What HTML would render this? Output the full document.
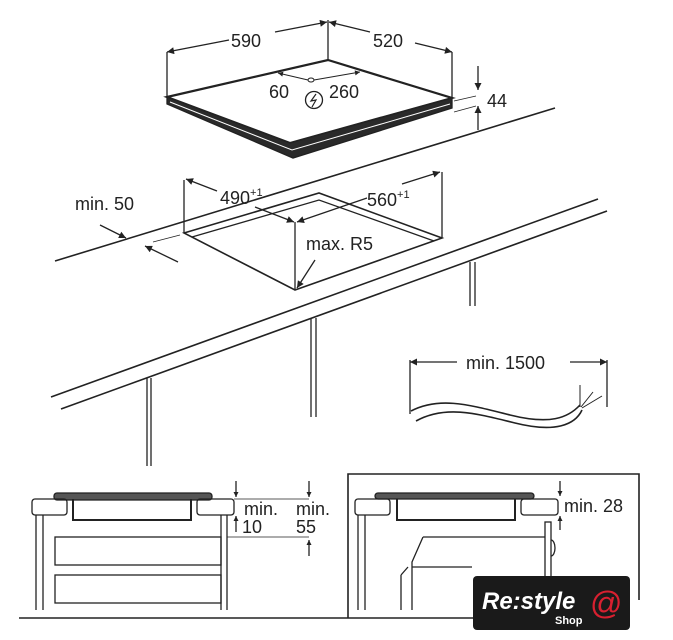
<!DOCTYPE html>
<html><head><meta charset="utf-8"><style>
html,body{margin:0;padding:0;background:#fff;}
svg{display:block;font-family:"Liberation Sans",Arial,sans-serif;}
</style></head><body>
<svg width="673" height="640" viewBox="0 0 673 640" xmlns="http://www.w3.org/2000/svg">
<defs>
<marker id="a" viewBox="0 0 10 10" refX="10" refY="5" markerWidth="9" markerHeight="7" orient="auto-start-reverse" markerUnits="userSpaceOnUse"><path d="M0,0 L10,5 L0,10 z" fill="#222"/></marker>
<marker id="s" viewBox="0 0 10 10" refX="10" refY="5" markerWidth="6" markerHeight="5" orient="auto-start-reverse" markerUnits="userSpaceOnUse"><path d="M0,0 L10,5 L0,10 z" fill="#222"/></marker>
</defs>
<g stroke="#222" fill="none" stroke-width="1.3">
<!-- HOB -->
<path d="M167,97 L328,60 L452,98 L290,143 Z" fill="#fff" stroke-width="2.2"/>
<path d="M167,97 L167,104 L293,158 L452,108 L452,98 L290,143 Z" fill="#2a2a2a"/>
<path d="M170,102 L292,150 L450,104" stroke="#fff" stroke-width="1"/>
<line x1="167" y1="52" x2="167" y2="97"/>
<line x1="452" y1="52" x2="452" y2="98"/>
<line x1="328" y1="20" x2="328" y2="60"/>
<line x1="167" y1="52" x2="229" y2="40" marker-start="url(#a)"/>
<line x1="275" y1="32" x2="327" y2="22" marker-end="url(#a)"/>
<line x1="329" y1="22" x2="370" y2="32" marker-start="url(#a)"/>
<line x1="415" y1="43" x2="452" y2="52" marker-end="url(#a)"/>
<line x1="278" y1="73" x2="308" y2="80" marker-start="url(#s)" stroke-width="1"/>
<line x1="314" y1="80" x2="360" y2="72" marker-end="url(#s)" stroke-width="1"/>
<ellipse cx="311" cy="80" rx="3" ry="2" stroke-width="1"/>
<circle cx="314" cy="100" r="8.5" stroke-width="1.3"/>
<path d="M316,94 L311,101 L316,100 L312,107" stroke-width="1.2"/>
<!-- 44 -->
<line x1="478" y1="66" x2="478" y2="90" marker-end="url(#a)"/>
<line x1="478" y1="130" x2="478" y2="106" marker-end="url(#a)"/>
<line x1="454" y1="101" x2="476" y2="96" stroke-width="0.8"/>
<line x1="454" y1="112" x2="476" y2="106" stroke-width="0.8"/>
<!-- COUNTER -->
<line x1="55" y1="261" x2="555" y2="108" stroke-width="1.6"/>
<line x1="51" y1="397" x2="598" y2="199" stroke-width="1.6"/>
<line x1="61" y1="409" x2="607" y2="211" stroke-width="1.6"/>
<!-- cutout -->
<path d="M184,233 L319,193 L442,238 L295,290 Z" stroke-width="1.6"/>
<path d="M192,237 L319,200 L434,241" stroke-width="1.3"/>
<line x1="184" y1="180" x2="184" y2="233"/>
<line x1="442" y1="172" x2="442" y2="238"/>
<line x1="295" y1="222" x2="295" y2="290"/>
<line x1="186" y1="179" x2="217" y2="191" marker-start="url(#a)"/>
<line x1="255" y1="207" x2="294" y2="222" marker-end="url(#a)"/>
<line x1="367" y1="198" x2="297" y2="222" marker-end="url(#a)"/>
<line x1="402" y1="184" x2="440" y2="172" marker-end="url(#a)"/>
<line x1="100" y1="225" x2="126" y2="238" marker-end="url(#a)"/>
<line x1="178" y1="262" x2="145" y2="246" marker-end="url(#a)"/>
<line x1="153" y1="242" x2="180" y2="235" stroke-width="0.8"/>
<line x1="315" y1="260" x2="297" y2="288" marker-end="url(#a)"/>
<!-- legs -->
<line x1="470" y1="262" x2="470" y2="306"/><line x1="475" y1="262" x2="475" y2="306"/>
<line x1="311" y1="318" x2="311" y2="417"/><line x1="316" y1="318" x2="316" y2="417"/>
<line x1="147" y1="378" x2="147" y2="466"/><line x1="151" y1="378" x2="151" y2="466"/>
<!-- cable -->
<line x1="410" y1="360" x2="410" y2="414"/>
<line x1="607" y1="360" x2="607" y2="407"/>
<line x1="410" y1="362" x2="457" y2="362" marker-start="url(#a)"/>
<line x1="570" y1="362" x2="607" y2="362" marker-end="url(#a)"/>
<path d="M411,411 C440,396 470,405 510,415 C550,425 568,418 580,405" stroke-width="1.6"/>
<path d="M416,421 C445,405 475,413 515,423 C555,433 575,425 582,410" stroke-width="1.6"/>
<path d="M580,407 L580,385 M581,407 L593,392 M582,408 L602,396" stroke-width="1"/>
<!-- BOTTOM LEFT -->
<rect x="54" y="493" width="158" height="7" rx="3" fill="#555"/>
<rect x="32" y="499" width="35" height="16" rx="3"/>
<rect x="197" y="499" width="37" height="16" rx="3"/>
<path d="M73,499 L73,520 L191,520 L191,499" stroke-width="2"/>
<line x1="36" y1="515" x2="36" y2="610"/><line x1="43" y1="515" x2="43" y2="610"/>
<line x1="221" y1="515" x2="221" y2="610"/><line x1="227" y1="515" x2="227" y2="610"/>
<rect x="55" y="537" width="166" height="28"/>
<rect x="55" y="575" width="166" height="28"/>
<line x1="19" y1="618" x2="348" y2="618" stroke-width="1.6"/>
<line x1="236" y1="481" x2="236" y2="497" marker-end="url(#s)"/>
<line x1="236" y1="532" x2="236" y2="516" marker-end="url(#s)"/>
<line x1="309" y1="481" x2="309" y2="497" marker-end="url(#s)"/>
<line x1="309" y1="556" x2="309" y2="540" marker-end="url(#s)"/>
<line x1="234" y1="499" x2="309" y2="499" stroke-width="0.8"/>
<line x1="227" y1="537" x2="309" y2="537" stroke-width="0.8"/>
<!-- BOTTOM RIGHT -->
<path d="M348,618 L348,474 L639,474 L639,600" stroke-width="1.6"/>
<line x1="348" y1="618" x2="480" y2="618" stroke-width="1.6"/>
<rect x="375" y="493" width="159" height="6" rx="3" fill="#555"/>
<rect x="355" y="499" width="35" height="16" rx="3"/>
<rect x="521" y="499" width="37" height="16" rx="3"/>
<path d="M397,499 L397,520 L515,520 L515,499" stroke-width="2"/>
<line x1="358" y1="515" x2="358" y2="610"/><line x1="365" y1="515" x2="365" y2="610"/>
<rect x="545" y="522" width="6" height="88"/>
<path d="M551,540 a4,8 0 0 1 0,16"/>
<path d="M423,537 L545,537 M423,537 L412,562 L412,610 M412,567 L472,567 M401,575 L401,610 M401,575 L408,567"/>
<line x1="560" y1="481" x2="560" y2="496" marker-end="url(#s)"/>
<line x1="560" y1="530" x2="560" y2="516" marker-end="url(#s)"/>
</g>
<g fill="#222" font-size="18">
<text x="231" y="47">590</text>
<text x="373" y="47">520</text>
<text x="269" y="98">60</text>
<text x="329" y="98">260</text>
<text x="487" y="107">44</text>
<text x="220" y="204">490<tspan font-size="11" dy="-8">+1</tspan></text>
<text x="367" y="206">560<tspan font-size="11" dy="-8">+1</tspan></text>
<text x="75" y="210">min. 50</text>
<text x="306" y="250">max. R5</text>
<text x="466" y="369">min. 1500</text>
<text x="244" y="515">min.</text>
<text x="242" y="533">10</text>
<text x="296" y="515">min.</text>
<text x="296" y="533">55</text>
<text x="564" y="512">min. 28</text>
</g>
<!-- logo -->
<rect x="473" y="576" width="157" height="54" rx="4" fill="#1a1a1a"/>
<text x="482" y="609" font-size="24" font-style="italic" font-weight="bold" fill="#fff" font-family="Liberation Sans,sans-serif">Re:style</text>
<text x="555" y="624" font-size="11" font-weight="bold" fill="#fff" font-family="Liberation Sans,sans-serif">Shop</text>
<text x="590" y="614" font-size="32" fill="#d82030" font-family="Liberation Sans,sans-serif">@</text>
</svg>
</body></html>
